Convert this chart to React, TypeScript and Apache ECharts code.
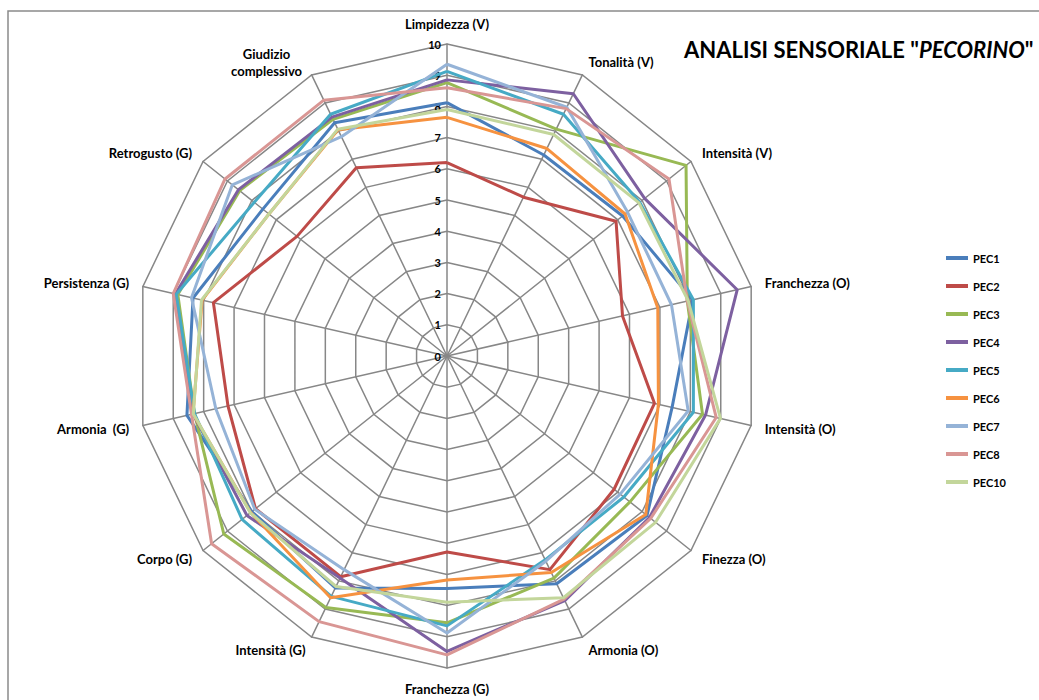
import { useEffect, useRef } from "react";
import * as echarts from "echarts";

// Sensory attributes, clockwise from the top (V = visivo, O = olfattivo, G = gustativo)
const attributes = [
  "Limpidezza (V)",
  "Tonalità (V)",
  "Intensità (V)",
  "Franchezza (O)",
  "Intensità (O)",
  "Finezza (O)",
  "Armonia (O)",
  "Franchezza (G)",
  "Intensità (G)",
  "Corpo (G)",
  "Armonia  (G)",
  "Persistenza (G)",
  "Retrogusto (G)",
  "Giudizio complessivo",
];

const scaleMin = 0;
const scaleMax = 10;
const scaleSteps = 10;

// Mean panel scores per sample, in the same order as the attributes
const pec1 = [8.12, 7.15, 7.2, 8.08, 7.4, 8.2, 8.1, 7.45, 8.25, 8.0, 8.55, 8.35, 7.55, 8.3];
const pec2 = [6.2, 5.65, 6.93, 5.77, 6.82, 6.85, 7.6, 6.28, 7.85, 7.85, 7.2, 7.68, 6.15, 6.7];
const pec3 = [8.76, 8.07, 9.8, 7.9, 8.4, 7.5, 7.9, 8.55, 8.95, 9.15, 8.3, 8.85, 8.5, 8.42];
const pec4 = [8.85, 9.33, 8.1, 9.54, 8.5, 8.3, 8.7, 9.47, 7.9, 8.2, 8.35, 8.93, 8.55, 8.5];
const pec5 = [9.12, 8.6, 7.9, 8.1, 8.1, 7.25, 7.25, 8.65, 8.55, 8.4, 8.3, 8.9, 7.9, 8.6];
const pec6 = [7.65, 7.38, 7.3, 6.93, 6.95, 8.15, 7.7, 7.18, 8.6, 8.05, 8.35, 8.05, 7.3, 8.05];
const pec7 = [9.35, 8.85, 7.4, 7.38, 7.93, 7.1, 7.3, 8.88, 7.6, 7.88, 7.6, 8.4, 8.8, 7.8];
const pec8 = [8.6, 8.8, 9.1, 7.9, 8.85, 8.35, 8.65, 9.58, 9.45, 9.65, 8.4, 9.0, 9.1, 9.1];
const pec10 = [7.9, 7.88, 7.87, 7.93, 8.99, 8.55, 8.6, 7.89, 8.2, 8.06, 8.34, 8.07, 7.3, 8.07];

const sampleNames = ["PEC1", "PEC2", "PEC3", "PEC4", "PEC5", "PEC6", "PEC7", "PEC8", "PEC10"];
const sampleValues = [pec1, pec2, pec3, pec4, pec5, pec6, pec7, pec8, pec10];
const sampleColors = [
  "#4A7EBB",
  "#BE4B48",
  "#98B954",
  "#7D60A0",
  "#46AAC5",
  "#F69240",
  "#95B3D7",
  "#D99694",
  "#C3D69B",
];

const FONT = "Lato, 'Open Sans', 'DejaVu Sans', sans-serif";
const GRID = "#878787";

// ECharts lays radar indicators out counter-clockwise; keep the first one
// at the top and reverse the rest so the attributes run clockwise.
function clockwise<T>(list: T[]): T[] {
  return [list[0], ...list.slice(1).reverse()];
}

export default function App() {
  const ref = useRef<HTMLDivElement>(null);

  useEffect(() => {
    if (!ref.current) return;
    const chart = echarts.init(ref.current, undefined, { renderer: "svg" });

    chart.setOption({
      animation: false,
      backgroundColor: "#ffffff",
      title: {
        text: '{n|ANALISI SENSORIALE "}{i|PECORINO}{n|"}',
        left: 679,
        top: 33,
        textStyle: {
          rich: {
            n: { fontFamily: FONT, fontSize: 22, fontWeight: "bold", color: "#000" },
            i: {
              fontFamily: FONT,
              fontSize: 22,
              fontWeight: "bold",
              fontStyle: "italic",
              color: "#000",
            },
          },
        },
      },
      legend: {
        orient: "vertical",
        left: 941,
        top: 246,
        itemWidth: 22,
        itemHeight: 4,
        itemGap: 14,
        icon: "rect",
        data: sampleNames,
        textStyle: {
          fontFamily: FONT,
          fontSize: 11,
          fontWeight: "bold",
          color: "#000",
          lineHeight: 14,
        },
      },
      graphic: [
        {
          type: "rect",
          silent: true,
          z: -10,
          shape: { x: 8, y: 11, width: 1200, height: 900 },
          style: { fill: "none", stroke: "#8a8a8a", lineWidth: 1.5 },
        },
      ],
      radar: {
        center: [447, 356],
        radius: 312,
        startAngle: 90,
        shape: "polygon",
        splitNumber: scaleSteps,
        nameGap: 14,
        axisName: {
          color: "#000",
          fontFamily: FONT,
          fontSize: 13,
          fontWeight: "bold",
          formatter: (value: string) =>
            value === "Giudizio complessivo" ? "{c|Giudizio}\n{c|complessivo}" : value,
          rich: {
            c: {
              width: 78,
              align: "center",
              fontFamily: FONT,
              fontSize: 13,
              fontWeight: "bold",
              color: "#000",
              lineHeight: 17,
            },
          },
        },
        axisLine: { lineStyle: { color: GRID, width: 1.5 } },
        splitLine: { lineStyle: { color: GRID, width: 1.5 } },
        splitArea: { show: false },
        axisTick: { show: false },
        axisLabel: { show: false },
        indicator: clockwise(attributes).map((name, i) => ({
          name,
          min: scaleMin,
          max: scaleMax,
          axisLabel:
            i === 0
              ? {
                  show: true,
                  showMinLabel: true,
                  showMaxLabel: true,
                  color: "#000",
                  fontFamily: FONT,
                  fontSize: 11,
                  fontWeight: "bold",
                  margin: 6,
                }
              : { show: false },
        })),
      },
      series: sampleNames.map((name, i) => ({
        name,
        type: "radar",
        symbol: "none",
        z: 2 + i,
        lineStyle: { color: sampleColors[i], width: 3 },
        itemStyle: { color: sampleColors[i] },
        data: [{ value: clockwise(sampleValues[i]), name }],
      })),
    });

    return () => chart.dispose();
  }, []);

  return (
    <div
      ref={ref}
      style={{ position: "absolute", left: 0, top: 0, width: 1039, height: 700, background: "#fff" }}
    />
  );
}
